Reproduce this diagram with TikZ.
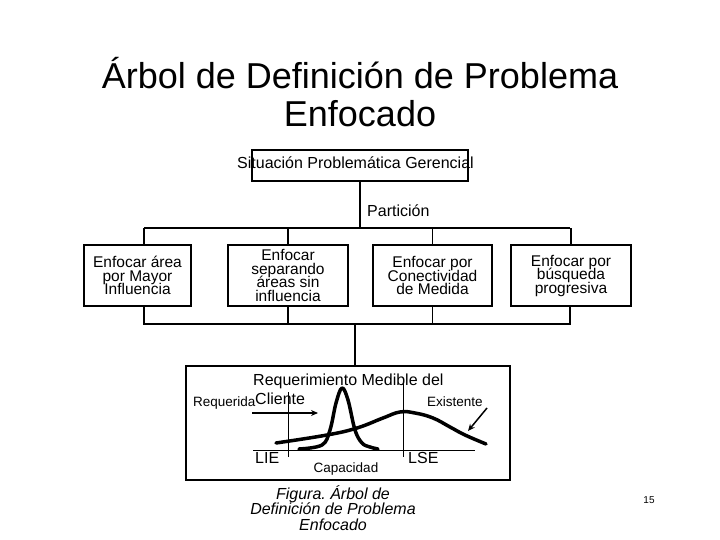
\documentclass[tikz,border=0pt]{standalone}
\usepackage{fontspec}
\setmainfont{Liberation Sans}
\usetikzlibrary{arrows.meta,calc}
\frenchspacing
\newcommand\myboxfont{\fontsize{15.5}{13.5}\selectfont\lineskiplimit=-20pt\relax\lineskip=0pt\relax}
\begin{document}
\begin{tikzpicture}[x=1pt,y=-1pt,
  box/.style={draw,line width=1.2pt,minimum height=61pt,inner sep=0pt,font=\myboxfont,align=center},
  conn/.style={line width=1.2pt},
  thinline/.style={line width=1pt},
  curve/.style={line width=3.5pt,line join=round,line cap=round},
  arr/.style={line width=1.5pt,-{Stealth[length=7pt,width=6pt]}},
  tx/.style={font=\fontsize{16}{16}\selectfont,inner sep=0pt},
  sm/.style={font=\fontsize{13.5}{13.5}\selectfont,inner sep=0pt},
  captext/.style={font=\itshape\fontsize{16}{16}\selectfont,inner sep=0pt,anchor=base}
]
\useasboundingbox (0,0) rectangle (720,540);
% title
\node[anchor=base,inner sep=0pt,font=\fontsize{36}{38}\selectfont] (t1) at (360,89) {Árbol de Definición de Problema};
\node[anchor=base,inner sep=0pt,font=\fontsize{36}{38}\selectfont] (t2) at (360,127) {Enfocado};
% top box
\node[draw,line width=1.2pt,minimum width=216pt,minimum height=31pt] (top) at (360,165.5) {};
\node[tx,anchor=base] (toptext) at (355.5,169) {Situación Problemática Gerencial};
\coordinate (tl) at (144,228);
\coordinate (tr) at (570,228);
\draw[conn] (top.south) -- (top.south |- tl);
\draw[conn] (tl) -- (tr);
\node[tx,anchor=base west] (part) at (367,217) {Partición};
% boxes
\node[box,minimum width=107pt] (b1) at (137.5,275.5) {Enfocar área\\por Mayor\\Influencia};
\node[box,minimum width=120pt] (b2) at (288,275.5) {Enfocar\\separando\\áreas sin\\influencia};
\node[box,minimum width=119pt] (b3) at (432.5,275.5) {Enfocar por\\Conectividad\\de Medida};
\node[box,minimum width=120pt] (b4) at (571,275.5) {Enfocar por\\búsqueda\\progresiva};
\draw[conn] (tl) -- (tl |- b1.north);
\draw[conn] (b2.north) -- (b2.north |- tl);
\draw[conn] (b3.north) -- (b3.north |- tl);
\draw[conn] (b4.north) -- (b4.north |- tl);
\coordinate (bl) at (144,324);
\coordinate (br) at (570,324);
\coordinate (bj) at (355,324);
\draw[conn] (bl |- b1.south) -- (bl) -- (br) -- (br |- b4.south);
\draw[conn] (b2.south) -- (b2.south |- bl);
\draw[conn] (b3.south) -- (b3.south |- bl);
% bottom box
\node[draw,line width=1.2pt,minimum width=324pt,minimum height=114pt] (bot) at (348,423) {};
\draw[conn] (bj) -- (bj |- bot.north);
\node[tx,anchor=base west] (req1) at (253,385) {Requerimiento Medible del};
\node[tx,anchor=base west] (req2) at (255,404) {Cliente};
\node[sm,anchor=base west] (reqd) at (193,406) {Requerida};
\node[sm,anchor=base west] (exis) at (427,406) {Existente};
\node[tx,anchor=base west] (lie) at (255,463) {LIE};
\node[tx,anchor=base west] (lse) at (408,463) {LSE};
\node[sm,anchor=base] (capa) at (346,472) {Capacidad};
% axes
\draw[thinline] (253,450) -- (475,450);
\draw[thinline] (288,392) -- (288,457);
\draw[thinline] (403,383) -- (403,457);
% curves
\draw[curve] plot[smooth,tension=0.6] coordinates {(299,449) (322,445) (330,430) (336,403) (342,388) (348,400) (355,430) (362,443) (370,447) (378,449)};
\draw[curve] plot[smooth,tension=0.7] coordinates {(276,443) (327,435) (357,428) (383,418) (400,412) (415,413) (433,418) (450,427) (465,435) (486,444)};
% arrows
\coordinate (a1s) at (252,413);
\coordinate (a1e) at (318,413);
\coordinate (a2s) at (487,408);
\coordinate (a2e) at (468,431);
\draw[arr] (a1s) -- (a1e);
\draw[arr] (a2s) -- (a2e);
% caption
\node[captext] (c1) at (333,499) {Figura. Árbol de};
\node[captext] (c2) at (333,514.5) {Definición de Problema};
\node[captext] (c3) at (333,530) {Enfocado};
\node[inner sep=0pt,anchor=base,font=\fontsize{10}{10}\selectfont] (pg) at (649,503) {15};
\end{tikzpicture}
\end{document}
